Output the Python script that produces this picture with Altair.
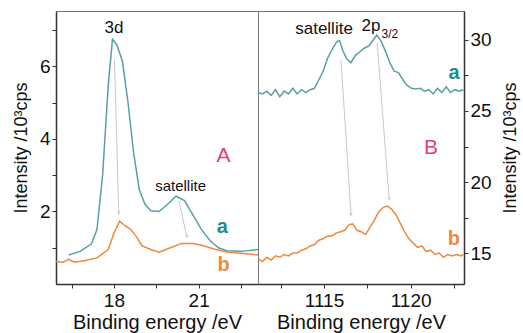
import altair as alt
import pandas as pd

# ---------------- data ----------------
# Panel A (3d region)
a_left_x = [16.4, 16.8, 17.2, 17.4, 17.6, 17.8, 17.95, 18.1, 18.3, 18.5, 18.7, 18.9, 19.1, 19.3,
            19.6, 19.9, 20.2, 20.5, 20.8, 21.1, 21.4, 21.7, 22.0, 22.5, 23.1]
a_left_y = [0.8, 0.9, 1.1, 1.5, 3.0, 5.5, 6.75, 6.6, 6.15, 5.0, 3.6, 2.6, 2.2, 2.02,
            2.0, 2.2, 2.42, 2.3, 1.9, 1.5, 1.2, 1.0, 0.92, 0.9, 0.95]
b_left_x = [15.95, 16.2, 16.4, 16.6, 17.0, 17.4, 17.8, 18.0, 18.2, 18.4, 18.6, 18.8, 19.0, 19.3,
            19.6, 20.0, 20.4, 20.8, 21.2, 21.6, 22.0, 22.5, 23.1]
b_left_y = [0.62, 0.6, 0.68, 0.6, 0.65, 0.72, 0.95, 1.4, 1.73, 1.6, 1.5, 1.3, 1.05, 0.95,
            0.88, 1.0, 1.12, 1.12, 1.05, 0.95, 0.88, 0.85, 0.8]

# Panel B (2p region)
a_right_x = [1111.2, 1111.45, 1111.7, 1111.95, 1112.2, 1112.45, 1112.7, 1112.95, 1113.2, 1113.45,
             1113.7, 1113.95, 1114.2, 1114.45, 1114.7, 1114.95, 1115.2, 1115.5, 1115.75, 1115.9,
             1116.1, 1116.3, 1116.55, 1116.8, 1117.0, 1117.3, 1117.6, 1117.9, 1118.05, 1118.3,
             1118.55, 1118.8, 1119.05, 1119.3, 1119.55, 1119.8, 1120.05, 1120.3, 1120.55, 1120.8,
             1121.05, 1121.3, 1121.55, 1121.8, 1122.05, 1122.3, 1122.55, 1122.8, 1123.05]
a_right_y = [26.3, 26.2, 26.4, 26.1, 26.5, 26.0, 26.4, 26.2, 26.6, 26.2,
             26.5, 26.3, 26.5, 26.6, 27.2, 27.8, 28.7, 29.4, 29.9, 29.95,
             29.2, 28.7, 28.4, 28.9, 29.1, 29.4, 29.6, 30.1, 30.35, 29.9,
             29.2, 28.4, 27.8, 27.7, 27.2, 26.8, 26.6, 26.55, 26.6, 26.4,
             26.5, 26.2, 26.6, 26.3, 26.7, 26.3, 26.5, 26.4, 26.5]
b_right_x = [1111.2, 1111.45, 1111.7, 1111.95, 1112.2, 1112.45, 1112.7, 1112.95, 1113.2, 1113.45,
             1113.7, 1113.95, 1114.2, 1114.45, 1114.7, 1114.95, 1115.2, 1115.45, 1115.7, 1115.95,
             1116.2, 1116.45, 1116.65, 1116.9, 1117.15, 1117.4, 1117.65, 1117.9, 1118.15, 1118.4,
             1118.65, 1118.9, 1119.15, 1119.4, 1119.65, 1119.9, 1120.15, 1120.4, 1120.65, 1120.9,
             1121.15, 1121.4, 1121.65, 1121.9, 1122.15, 1122.4, 1122.65, 1122.9, 1123.05]
b_right_y = [14.6, 14.4, 14.7, 14.5, 14.8, 14.7, 14.9, 14.8, 15.0, 15.0,
             15.2, 15.3, 15.5, 15.6, 15.9, 16.0, 16.2, 16.2, 16.4, 16.5,
             16.6, 17.0, 17.05, 16.6, 16.5, 16.3, 16.8, 17.3, 17.9, 18.2,
             18.3, 18.1, 17.7, 17.1, 16.5, 16.0, 15.7, 15.4, 15.5, 15.1,
             15.2, 14.9, 15.0, 14.7, 14.9, 14.8, 14.9, 14.8, 14.9]

# guide arrows (start x, start y, end x, end y)
arrows_left = [(18.02, 6.2, 18.17, 1.95), (20.3, 2.3, 20.58, 1.3)]
arrows_right = [(1115.98, 28.6, 1116.56, 17.7), (1118.07, 29.8, 1118.76, 18.8)]

# annotations (text, x, y, kind)
labels_left = [("3d", 18.0, 7.06, "note"), ("satellite", 20.36, 2.7, "note_s"),
               ("A", 21.88, 3.53, "panel"), ("a", 21.84, 1.57, "a"), ("b", 21.88, 0.52, "b")]
labels_right = [("satellite", 1115.0, 30.78, "note"), ("2p", 1117.71, 31.0, "note"),
                ("3/2", 1118.8, 30.43, "sub"),
                ("B", 1121.17, 22.4, "panel"), ("a", 1122.5, 27.68, "a"), ("b", 1122.5, 15.99, "b")]

TEAL = "#5a9fa3"
TEAL_T = "#1f8c8c"
ORANGE = "#f0883c"
MAGENTA = "#e0407a"
FONT = "Liberation Sans"

def curves(ax, ay, bx, by):
    return pd.concat([
        pd.DataFrame({"x": ax, "y": ay, "s": "a"}),
        pd.DataFrame({"x": bx, "y": by, "s": "b"}),
    ])

def panel(df, arrows, labels, xdom, ydom, xvals, xlab, yvals, ylab, yorient, w):
    xs = alt.Scale(domain=xdom, nice=False, zero=False)
    ys = alt.Scale(domain=ydom, nice=False, zero=False)
    xlabel_expr = "indexof(" + str(xlab) + ", datum.value) >= 0 ? format(datum.value, 'd') : ''"
    ylabel_expr = "indexof(" + str(ylab) + ", datum.value) >= 0 ? format(datum.value, 'd') : ''"
    xaxis = alt.Axis(values=xvals, labelExpr=xlabel_expr, title="Binding energy /eV", grid=False,
                     tickSize=4, labelFontSize=19, titleFontSize=20, labelPadding=3, titlePadding=2)
    ykw = dict(titleBaseline="top", titlePadding=10) if yorient == "right" else dict(titlePadding=9)
    yaxis = alt.Axis(values=yvals, labelExpr=ylabel_expr, title="Intensity /10\u00b3cps", grid=False,
                     orient=yorient, tickSize=4, labelFontSize=19, titleFontSize=18,
                     titleAngle=270, labelPadding=2, **ykw)
    lines = alt.Chart(df).mark_line(strokeWidth=1.5, clip=True).encode(
        x=alt.X("x:Q", scale=xs, axis=xaxis),
        y=alt.Y("y:Q", scale=ys, axis=yaxis),
        color=alt.Color("s:N", scale=alt.Scale(domain=["a", "b"], range=[TEAL, ORANGE]), legend=None),
        detail="s:N",
    )
    adf = pd.DataFrame(arrows, columns=["x", "y", "x2", "y2"])
    rules = alt.Chart(adf).mark_rule(color="#c8c8c8", strokeWidth=1).encode(
        x=alt.X("x:Q", scale=xs), y=alt.Y("y:Q", scale=ys), x2="x2:Q", y2="y2:Q")
    heads = alt.Chart(adf).mark_point(shape="triangle-down", filled=True, color="#c0c0c0", size=14).encode(
        x=alt.X("x2:Q", scale=xs), y=alt.Y("y2:Q", scale=ys))
    ldf = pd.DataFrame(labels, columns=["t", "x", "y", "k"])
    layers = [lines, rules, heads]
    styles = {
        "note": dict(fontSize=17, color="#111111"),
        "note_s": dict(fontSize=15, color="#111111"),
        "sub": dict(fontSize=12, color="#111111"),
        "panel": dict(fontSize=21, color=MAGENTA),
        "a": dict(fontSize=20, color=TEAL_T, fontWeight="bold"),
        "b": dict(fontSize=20, color=ORANGE, fontWeight="bold"),
    }
    for k, st in styles.items():
        sub = ldf[ldf.k == k]
        if len(sub) == 0:
            continue
        layers.append(alt.Chart(sub).mark_text(font=FONT, baseline="middle", align="center", **st).encode(
            x=alt.X("x:Q", scale=xs), y=alt.Y("y:Q", scale=ys), text="t:N"))
    return alt.layer(*layers).properties(width=w, height=273)

left = panel(curves(a_left_x, a_left_y, b_left_x, b_left_y), arrows_left, labels_left,
             [15.95, 23.1], [0, 7.53], [16.5, 18, 19.5, 21, 22.5], [18, 21],
             [1, 2, 3, 4, 5, 6, 7], [2, 4, 6], "left", 202)
right = panel(curves(a_right_x, a_right_y, b_right_x, b_right_y), arrows_right, labels_right,
              [1111.19, 1123.08], [12.82, 32.04], [1112.5, 1115, 1117.5, 1120, 1122.5], [1115, 1120],
              [15, 17.5, 20, 22.5, 25, 27.5, 30], [15, 20, 25, 30], "right", 206)

chart = alt.hconcat(left, right, spacing=0, bounds="flush").properties(
    padding={"left": 11, "top": 10, "right": 2, "bottom": 2},
    background="white",
).configure_view(stroke="#777777", strokeWidth=1).configure_axis(
    domainColor="#333333", domainWidth=1.5, tickColor="#333333", labelColor="#111111",
    titleColor="#111111", labelFont=FONT, titleFont=FONT, titleFontWeight="normal",
)

chart.save("out.html", embed_options={"renderer": "svg", "actions": False})
